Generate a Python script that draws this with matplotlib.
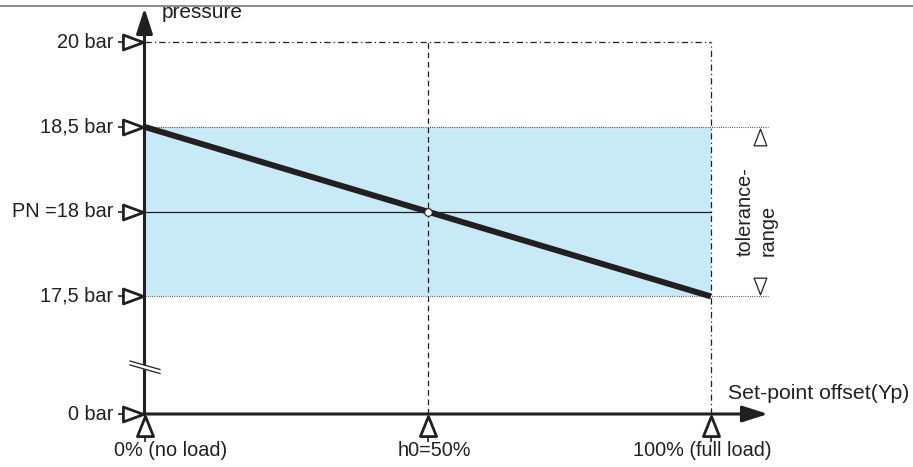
#!/usr/bin/env python3

import numpy as np
import matplotlib.pyplot as plt
from matplotlib.path import Path
from matplotlib.transforms import offset_copy

# pressure levels on the (broken) y axis
pressure_values = [0, 17.5, 18, 18.5, 20]
pressure_labels = ['0 bar', '17,5 bar', 'PN =18 bar', '18,5 bar', '20 bar']

# load on the x axis, in percent
load_values = [0, 50, 100]
load_labels = ['0% (no load)', 'h0=50%', '100% (full load)']

# proportional characteristic: pressure falls with load
offset_load = [0, 100]
offset_pressure = [18.5, 17.5]
setpoint_load = [50]
setpoint_pressure = [18]

tolerance_band = [17.5, 18.5]

# layout, in pixels of the 913x467 output
W, H = 913, 467
X0_PX, PCT_PX = 144.5, 5.665
Y0_PX, STEP_PX = 414, 84.8
BREAK_GAP = 1.386
UPPER = [17.5, 18, 18.5, 20]

DARK = '#231f20'
BLUE = '#c8e9f6'


def ypos(p):
    """Schematic position of a pressure (axis is broken below 17,5 bar)"""
    p = np.asarray(p, dtype=float)
    upper = np.interp(p, UPPER, BREAK_GAP + np.arange(len(UPPER)))
    return np.where(p < UPPER[0], 0.0, upper)


def px2x(px):
    return (px - X0_PX) / PCT_PX


def py2y(py):
    return (Y0_PX - py) / STEP_PX


def tri(w, direction):
    """Triangle marker path, long side 1, short side w"""
    h = w / 2
    if direction == 'right':
        v = [(-0.5, -h), (0.5, 0), (-0.5, h), (-0.5, -h)]
    elif direction == 'up':
        v = [(-h, -0.5), (h, -0.5), (0, 0.5), (-h, -0.5)]
    else:
        v = [(-h, 0.5), (h, 0.5), (0, -0.5), (-h, 0.5)]
    return Path(v, closed=True)


plt.rcParams['font.family'] = ['Liberation Sans', 'DejaVu Sans']
plt.rcParams['font.size'] = 14.3
plt.rcParams['text.color'] = DARK

fig = plt.figure(figsize=(W / 100, H / 100), dpi=100)
ax = fig.add_axes([0, 0, 1, 1])
ax.set_xlim(px2x(0), px2x(W))
ax.set_ylim(py2y(H), py2y(0))
ax.axis('off')

x_lo, x_hi = load_values[0], load_values[-1]
y_top = ypos(max(pressure_values))

# tolerance band
ax.fill_between([x_lo, x_hi], ypos(tolerance_band[0]), ypos(tolerance_band[1]),
                color=BLUE, lw=0, zorder=1)

# frame lines
ax.plot([x_lo, x_hi], [y_top, y_top], color=DARK, lw=0.9,
        dashes=(5, 2.5, 1, 2.5), zorder=2)
ax.plot([x_hi, x_hi], [0, y_top], color=DARK, lw=0.9,
        dashes=(5, 2.5, 1, 2.5), zorder=2)
ax.plot([load_values[1]] * 2, [0, y_top], color=DARK, lw=0.9,
        dashes=(4.5, 3), zorder=2)

x_tol = px2x(768)
for p in tolerance_band:
    ax.plot([x_lo, x_tol], [ypos(p)] * 2, color='#444444', lw=0.8,
            dashes=(0.8, 1.2), zorder=2)
ax.plot([x_lo, x_hi], [ypos(setpoint_pressure[0])] * 2, color=DARK, lw=0.9,
        zorder=2)

# characteristic line and set point
ax.plot(offset_load, ypos(offset_pressure), color=DARK, lw=4.3,
        solid_capstyle='butt', zorder=4)
ax.plot(setpoint_load, ypos(setpoint_pressure), 'o', ms=5.5, mfc='white',
        mec=DARK, mew=0.8, zorder=5)

# axes with arrow heads
arrow = dict(arrowstyle='-|>,head_length=1.0,head_width=0.32',
             mutation_scale=15.5, lw=2.2, color=DARK, shrinkA=0, shrinkB=0)
ax.annotate('', xy=(0, py2y(8)), xytext=(0, py2y(Y0_PX + 1)),
            arrowprops=arrow, zorder=6)
ax.annotate('', xy=(px2x(768), 0), xytext=(px2x(X0_PX - 1), 0),
            arrowprops=arrow, zorder=6)

# axis break
bx = np.array([px2x(130), px2x(160)])
b1 = np.array([py2y(361), py2y(369.5)])
b2 = np.array([py2y(365), py2y(373.5)])
ax.fill_between(bx, b1, b2, color='white', lw=0, zorder=7)
ax.plot(bx, b1, color=DARK, lw=0.9, zorder=8)
ax.plot(bx, b2, color=DARK, lw=0.9, zorder=8)

# y ticks: open triangles with a stub
y_tr = offset_copy(ax.transData, fig=fig, x=-11.5, y=0, units='dots')
y_stub = offset_copy(ax.transData, fig=fig, x=-24, y=0, units='dots')
ys = ypos(pressure_values)
ax.plot(np.zeros(len(ys)), ys, ls='none', marker='_', ms=4.5, mec=DARK,
        mew=1.2, transform=y_stub, zorder=6, clip_on=False)
ax.plot(np.zeros(len(ys)), ys, ls='none', marker=tri(0.74, 'right'), ms=14.5,
        mfc='white', mec=DARK, mew=2.0, transform=y_tr, zorder=7,
        clip_on=False)
for y, lab in zip(ys, pressure_labels):
    ax.annotate(lab, xy=(0, y), xytext=(-31.5, 0), textcoords='offset pixels',
                ha='right', va='center')

# x ticks
x_tr = offset_copy(ax.transData, fig=fig, x=0, y=-12, units='dots')
x_stub = offset_copy(ax.transData, fig=fig, x=0, y=-25, units='dots')
ax.plot(load_values, np.zeros(len(load_values)), ls='none', marker='|',
        ms=4, mec=DARK, mew=1.2, transform=x_stub, zorder=6, clip_on=False)
ax.plot(load_values, np.zeros(len(load_values)), ls='none',
        marker=tri(0.8, 'up'), ms=14.5, mfc='white', mec=DARK, mew=2.0,
        transform=x_tr, zorder=7, clip_on=False)
for x, lab, dx in zip(load_values, load_labels, [26, 7, -9]):
    ax.annotate(lab, xy=(x, 0), xytext=(dx, -37), textcoords='offset pixels',
                ha='center', va='center')

# tolerance range marks
up_tr = offset_copy(ax.transData, fig=fig, x=48.5, y=-10, units='dots')
dn_tr = offset_copy(ax.transData, fig=fig, x=48.5, y=10, units='dots')
ax.plot([x_hi], [ypos(tolerance_band[1])], ls='none', marker=tri(0.76, 'up'),
        ms=12, mfc='white', mec=DARK, mew=0.9, transform=up_tr,
        clip_on=False)
ax.plot([x_hi], [ypos(tolerance_band[0])], ls='none',
        marker=tri(0.76, 'down'), ms=12, mfc='white', mec=DARK, mew=0.9,
        transform=dn_tr, clip_on=False)
ax.annotate('tolerance-\nrange', xy=(x_hi, ypos(setpoint_pressure[0])),
            xytext=(45.5, 0), textcoords='offset pixels', rotation=90,
            ha='center', va='center', multialignment='left', linespacing=1.25)

# axis titles
ax.text(px2x(162), py2y(17.7), 'pressure', ha='left', va='baseline',
        fontsize=15)
ax.text(px2x(728), py2y(399), 'Set-point offset(Yp)', ha='left',
        va='baseline', fontsize=15.3)

# rule at the top of the page
fig.add_artist(plt.Line2D([0, 1], [1 - 6 / H] * 2, transform=fig.transFigure,
                          color='#8c8c8c', lw=1.4))

fig.savefig('out.png', dpi=100)
